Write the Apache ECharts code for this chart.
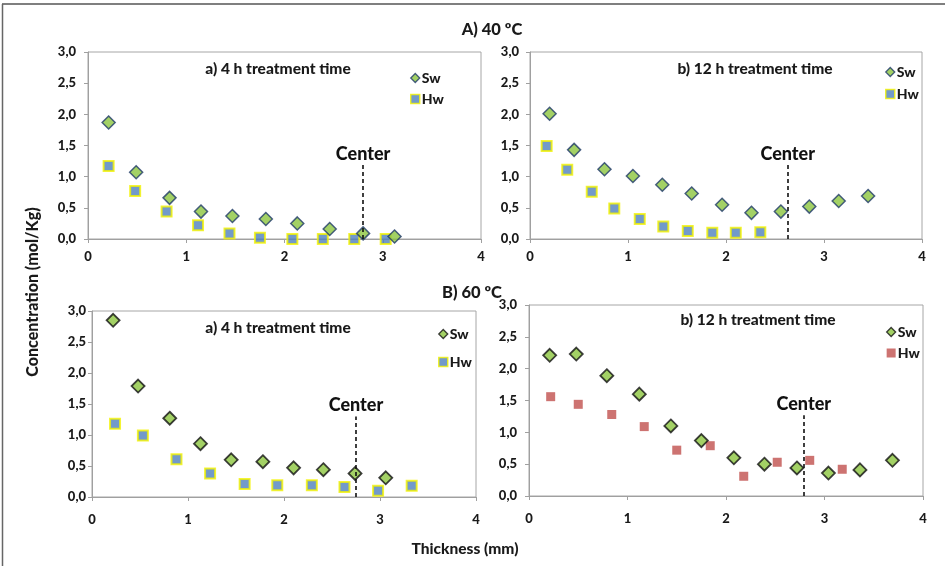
<!DOCTYPE html>
<html>
<head>
<meta charset="utf-8">
<script src="https://cdn.jsdelivr.net/npm/echarts@6/dist/echarts.min.js"></script>
<style>
html,body{margin:0;padding:0;background:#fff;}
#chart{width:945px;height:566px;}
</style>
</head>
<body>
<div id="chart"></div>
<script>
// ---- Data (thickness mm, concentration mol/Kg) ----
const xTickLabels = ['0', '1', '2', '3', '4'];
const yTickLabels = ['0,0', '0,5', '1,0', '1,5', '2,0', '2,5', '3,0'];
const seriesNames = ['Sw', 'Hw'];
const panelTitles = ['a) 4 h treatment time', 'b) 12 h treatment time', 'a) 4 h treatment time', 'b) 12 h treatment time'];
const groupTitles = ['A) 40 ºC', 'B) 60 ºC'];

// A) 40 ºC, 4 h
const a40_4h_Sw = [[0.21,1.87],[0.49,1.07],[0.83,0.66],[1.15,0.44],[1.47,0.37],[1.81,0.32],[2.13,0.25],[2.46,0.16],[2.80,0.09],[3.12,0.04]];
const a40_4h_Hw = [[0.21,1.17],[0.48,0.77],[0.80,0.44],[1.12,0.22],[1.44,0.09],[1.75,0.02],[2.08,0.00],[2.39,0.00],[2.71,0.00],[3.03,0.00]];
// A) 40 ºC, 12 h
const a40_12h_Sw = [[0.20,2.01],[0.45,1.43],[0.76,1.12],[1.05,1.01],[1.35,0.87],[1.65,0.73],[1.96,0.55],[2.26,0.42],[2.56,0.44],[2.85,0.52],[3.15,0.61],[3.45,0.69]];
const a40_12h_Hw = [[0.17,1.49],[0.38,1.11],[0.63,0.76],[0.86,0.49],[1.12,0.32],[1.36,0.20],[1.61,0.13],[1.86,0.10],[2.10,0.10],[2.35,0.11]];
// B) 60 ºC, 4 h
const b60_4h_Sw = [[0.22,2.85],[0.48,1.79],[0.81,1.27],[1.13,0.86],[1.45,0.60],[1.78,0.57],[2.10,0.47],[2.41,0.44],[2.74,0.38],[3.06,0.31]];
const b60_4h_Hw = [[0.24,1.18],[0.53,0.99],[0.88,0.61],[1.23,0.38],[1.59,0.21],[1.93,0.19],[2.29,0.19],[2.63,0.16],[2.98,0.10],[3.33,0.18]];
// B) 60 ºC, 12 h
const b60_12h_Sw = [[0.21,2.21],[0.48,2.23],[0.79,1.89],[1.12,1.60],[1.44,1.10],[1.75,0.87],[2.08,0.60],[2.39,0.50],[2.72,0.44],[3.04,0.36],[3.36,0.41],[3.69,0.56]];
const b60_12h_Hw = [[0.22,1.56],[0.50,1.44],[0.84,1.28],[1.17,1.09],[1.50,0.72],[1.84,0.79],[2.18,0.31],[2.52,0.53],[2.85,0.56],[3.18,0.42]];

// Center lines [x, top y]
const centerA4 = [2.80, 1.19];
const centerA12 = [2.63, 1.19];
const centerB4 = [2.75, 1.30];
const centerB12 = [2.79, 1.27];

// ---- Styles ----
const FONT = 'Lato';
const W = 900;
const green = '#8cc63f';
const navy = '#1f3a68';
const blue = '#4f81bd';
const yellow = '#f2f200';
const red = '#c0504d';

const grids = [
  {left: 88, top: 52, width: 393, height: 187},
  {left: 530, top: 52, width: 392, height: 187},
  {left: 92, top: 311, width: 384, height: 186},
  {left: 529, top: 305, width: 394, height: 191}
];
const yLabelMargin = [12, 11, 6, 12];
const xLabelMargin = [11, 11, 16, 16];

const swStyles = [
  {color: green, borderColor: navy, borderWidth: 1.5},
  {color: green, borderColor: navy, borderWidth: 1.5},
  {color: green, borderColor: '#111', borderWidth: 1.8},
  {color: green, borderColor: '#111', borderWidth: 1.8}
];
const hwStyles = [
  {color: blue, borderColor: yellow, borderWidth: 2},
  {color: blue, borderColor: yellow, borderWidth: 2},
  {color: blue, borderColor: yellow, borderWidth: 2},
  {color: red, borderColor: red, borderWidth: 0}
];
const hwSizes = [10, 10, 10, 9];
const swData = [a40_4h_Sw, a40_12h_Sw, b60_4h_Sw, b60_12h_Sw];
const hwData = [a40_4h_Hw, a40_12h_Hw, b60_4h_Hw, b60_12h_Hw];
const centers = [centerA4, centerA12, centerB4, centerB12];

// legend positions: [iconCenterX, firstCenterY, spacing]
const legendPos = [[410, 73, 21], [885, 67, 22], [438, 329, 28], [886, 327, 21]];
// panel subtitle positions [centerX, centerY]
const subPos = [[278, 69], [755, 69], [278, 328], [758, 320]];

const xAxes = [], yAxes = [], series = [], legends = [], graphics = [];

grids.forEach((g, i) => {
  xAxes.push({
    type: 'value', gridIndex: i, min: 0, max: 4, interval: 1,
    axisLine: {show: true, lineStyle: {color: '#a0a0a0'}},
    axisTick: {show: true, length: 4, lineStyle: {color: '#a0a0a0'}},
    splitLine: {show: false},
    axisLabel: {margin: xLabelMargin[i], color: '#1a1a1a', fontFamily: FONT, fontWeight: W, fontSize: 13,
      formatter: v => xTickLabels[Math.round(v)]}
  });
  yAxes.push({
    type: 'value', gridIndex: i, min: 0, max: 3, interval: 0.5,
    axisLine: {show: true, lineStyle: {color: '#a0a0a0'}},
    axisTick: {show: true, length: 4, lineStyle: {color: '#a0a0a0'}},
    splitLine: {show: false},
    axisLabel: {margin: yLabelMargin[i], color: '#1a1a1a', fontFamily: FONT, fontWeight: W, fontSize: 13,
      formatter: v => yTickLabels[Math.round(v / 0.5)]}
  });
  series.push({
    name: 'Sw', type: 'scatter', xAxisIndex: i, yAxisIndex: i,
    symbol: 'diamond', symbolSize: 13, data: swData[i], itemStyle: swStyles[i],
    z: 3
  });
  series.push({
    name: 'Hw', type: 'scatter', xAxisIndex: i, yAxisIndex: i,
    symbol: 'rect', symbolSize: hwSizes[i], data: hwData[i], itemStyle: hwStyles[i],
    z: 2,
    markLine: {
      silent: true, symbol: ['none', 'none'], animation: false,
      lineStyle: {type: [4, 3], color: '#111', width: 1.6},
      label: {show: true, position: 'end', formatter: 'Center', distance: 2,
        color: '#111', fontFamily: FONT, fontWeight: W, fontSize: 18},
      data: [[{coord: [centers[i][0], 0]}, {coord: [centers[i][0], centers[i][1]]}]]
    }
  });
  const lp = legendPos[i];
  legends.push({
    orient: 'vertical', left: lp[0] - 5, top: lp[1] - 8,
    itemWidth: 9, itemHeight: 9, itemGap: lp[2] - 16,
    selectedMode: false,
    textStyle: {fontFamily: FONT, fontWeight: W, fontSize: 14, color: '#1a1a1a', lineHeight: 16, padding: [0, 0, 0, -3]},
    data: [
      {name: seriesNames[0], icon: 'diamond', itemStyle: {color: swStyles[i].color, borderColor: swStyles[i].borderColor, borderWidth: 1.3}},
      {name: seriesNames[1], icon: 'rect', itemStyle: {color: hwStyles[i].color, borderColor: hwStyles[i].borderColor, borderWidth: i === 3 ? 0 : 1.5}}
    ]
  });
  graphics.push({
    type: 'text', x: subPos[i][0], y: subPos[i][1],
    style: {text: panelTitles[i], fontFamily: FONT, fontWeight: W, fontSize: 15.5, fill: '#1a1a1a',
      textAlign: 'center', textVerticalAlign: 'middle'}
  });
});

// group titles & axis titles
graphics.push({type: 'text', x: 492, y: 30, style: {text: groupTitles[0], fontFamily: FONT, fontWeight: W, fontSize: 16.5, fill: '#1a1a1a', textAlign: 'center', textVerticalAlign: 'middle'}});
graphics.push({type: 'text', x: 472, y: 293, style: {text: groupTitles[1], fontFamily: FONT, fontWeight: W, fontSize: 16.5, fill: '#1a1a1a', textAlign: 'center', textVerticalAlign: 'middle'}});
graphics.push({type: 'text', x: 465, y: 549, style: {text: 'Thickness (mm)', fontFamily: FONT, fontWeight: W, fontSize: 15.5, fill: '#1a1a1a', textAlign: 'center', textVerticalAlign: 'middle'}});
graphics.push({type: 'text', x: 33, y: 292, rotation: Math.PI / 2, style: {text: 'Concentration (mol/Kg)', fontFamily: FONT, fontWeight: W, fontSize: 16, fill: '#1a1a1a', textAlign: 'center', textVerticalAlign: 'middle'}});
// outer frame (top and left edges)
graphics.push({type: 'line', shape: {x1: 2, y1: 4, x2: 945, y2: 4}, style: {stroke: '#555', lineWidth: 1.5}});
graphics.push({type: 'line', shape: {x1: 2.5, y1: 4, x2: 2.5, y2: 566}, style: {stroke: '#666', lineWidth: 1.5}});

const chart = echarts.init(document.getElementById('chart'), null, {renderer: 'canvas'});
chart.setOption({
  animation: false,
  backgroundColor: '#fff',
  grid: grids.map(g => Object.assign({show: true, borderColor: '#a6a6a6', borderWidth: 1, containLabel: false}, g)),
  xAxis: xAxes,
  yAxis: yAxes,
  legend: legends,
  series: series,
  graphic: graphics
});
</script>
</body>
</html>
